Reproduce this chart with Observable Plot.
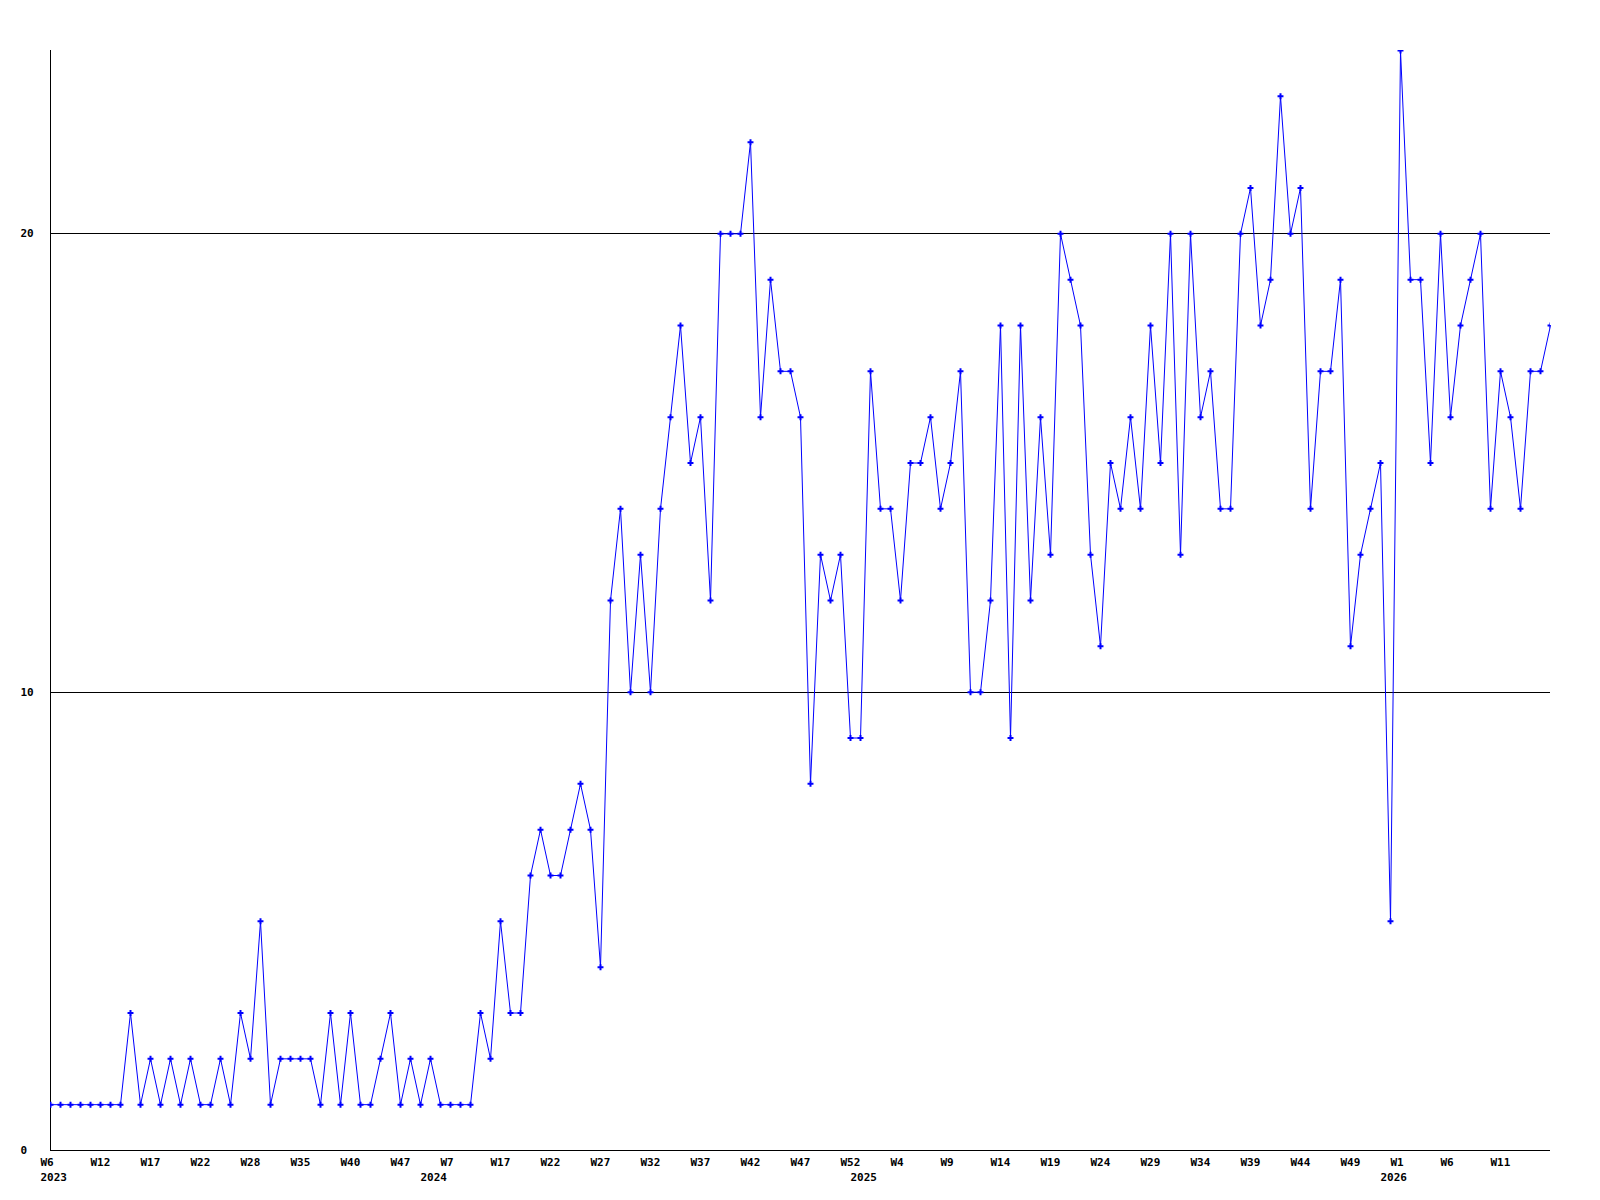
<!DOCTYPE html>
<html>
<head>
<meta charset="utf-8">
<script src="https://cdn.jsdelivr.net/npm/d3@7"></script>
<script src="https://cdn.jsdelivr.net/npm/@observablehq/plot@0.6"></script>
<style>
  html, body { margin: 0; padding: 0; background: #fff; }
  #chart svg { display: block; }
</style>
</head>
<body>
<div id="chart"></div>
<script>
// Week numbers (only weeks with data appear on the axis)
const weeks2023 = [6,7,8,9,10,12,13,14,15,16,17,18,19,20,21,22,23,24,25,26,28,29,30,31,33,35,36,37,38,39,40,41,42,44,45,47,48,50];
const values2023 = [1,1,1,1,1,1,1,1,3,1,2,1,2,1,2,1,1,2,1,3,2,5,1,2,2,2,2,1,3,1,3,1,1,2,3,1,2,1];

const weeks2024 = [2,4,7,9,11,13,15,17,18,19,20,21,22,23,24,25,26,27,28,29,30,31,32,33,34,35,36,37,38,39,40,41,42,43,44,45,46,47,48,49,50,51,52];
const values2024 = [2,1,1,1,1,3,2,5,3,3,6,7,6,6,7,8,7,4,12,14,10,13,10,14,16,18,15,16,12,20,20,20,22,16,19,17,17,16,8,13,12,13,9];

const weeks2025 = [0,1,2,3,4,5,6,7,8,9,10,11,12,13,14,15,16,17,18,19,20,21,22,23,24,25,26,27,28,29,30,31,32,33,34,35,36,37,38,39,40,41,42,43,44,45,46,47,48,49,50,51,52];
const values2025 = [9,17,14,14,12,15,15,16,14,15,17,10,10,12,18,9,18,12,16,13,20,19,18,13,11,15,14,16,14,18,15,20,13,20,16,17,14,14,20,21,18,19,23,20,21,14,17,17,19,11,13,14,15];

const weeks2026 = [0,1,2,3,4,5,6,7,8,9,10,11,12,13,14,15,16];
const values2026 = [5,24,19,19,15,20,16,18,19,20,14,17,16,14,17,17,18];

const yTicks = [0, 10, 20];
const gridValues = [10, 20];

// Build table
const series = [[2023, weeks2023, values2023], [2024, weeks2024, values2024], [2025, weeks2025, values2025], [2026, weeks2026, values2026]];
const data = [];
for (const [year, weeks, values] of series) {
  weeks.forEach((w, i) => {
    data.push({key: `${year}-W${w}`, year, week: w, value: values[i], first: i === 0});
  });
}
const keys = data.map(d => d.key);
const byKey = new Map(data.map(d => [d.key, d]));
const weekTicks = keys.filter((k, i) => i % 5 === 0 && i < keys.length - 1);
const yearTicks = data.filter(d => d.first).map(d => d.key);

const font = "'DejaVu Sans Mono', 'Liberation Mono', monospace";

const chart = Plot.plot({
  width: 1600,
  height: 1200,
  marginLeft: 50,
  marginRight: 50,
  marginTop: 50,
  marginBottom: 50,
  style: {fontFamily: font, fontSize: "11px", fontWeight: "bold", background: "#fff", color: "#000"},
  x: {type: "point", domain: keys, padding: 0},
  y: {domain: [0, 24]},
  marks: [
    Plot.ruleY(gridValues, {stroke: "#000", strokeWidth: 1, shapeRendering: "crispEdges"}),
    Plot.ruleY([0], {stroke: "#000", strokeWidth: 1, shapeRendering: "crispEdges"}),
    Plot.ruleX([keys[0]], {stroke: "#000", strokeWidth: 1, shapeRendering: "crispEdges"}),
    Plot.axisY(yTicks, {anchor: "left", tickSize: 0, tickPadding: 0, textAnchor: "start", dx: -30, label: null, fill: "#000"}),
    Plot.axisX(weekTicks, {anchor: "bottom", tickSize: 0, tickPadding: 8, textAnchor: "start", dx: -10, label: null, fill: "#000",
      tickFormat: k => `W${byKey.get(k).week}`}),
    Plot.axisX(yearTicks, {anchor: "bottom", tickSize: 0, tickPadding: 23, textAnchor: "start", dx: -10, label: null, fill: "#000",
      tickFormat: k => `${byKey.get(k).year}`}),
    Plot.line(data, {x: "key", y: "value", stroke: "#0000ff", strokeWidth: 1}),
    Plot.dot(data, {x: "key", y: "value", symbol: "cross", r: 2.5, fill: "#0000ff", stroke: "none", clip: true})
  ]
});
document.getElementById("chart").appendChild(chart);
</script>
</body>
</html>
